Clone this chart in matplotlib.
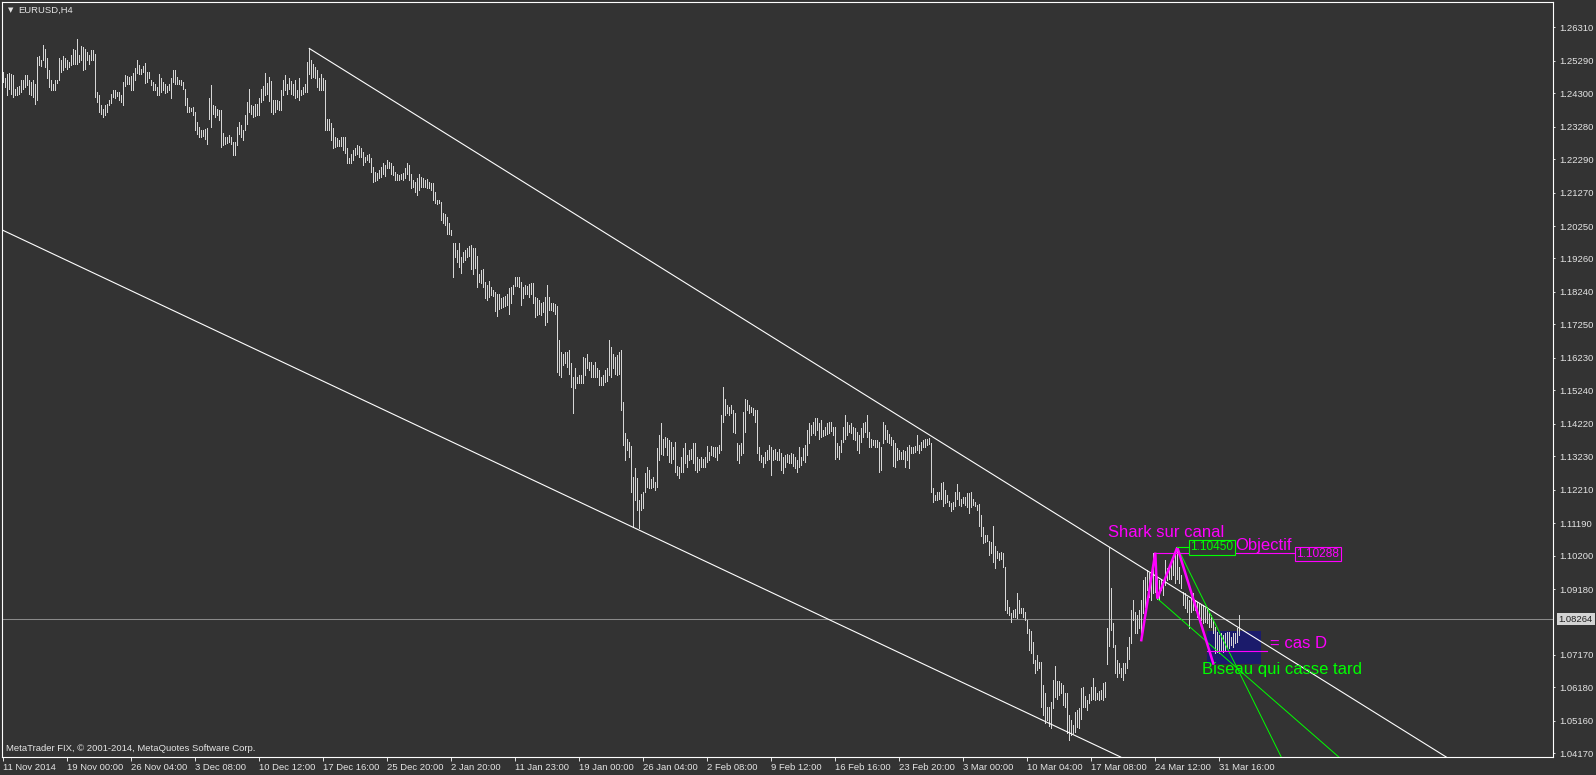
#!/usr/bin/env python3
# -*- coding: utf-8 -*-
"""
EURUSD H4 - canal baissier + shark + biseau (style MetaTrader)
"""

import numpy as np
import matplotlib
matplotlib.use("Agg")
import matplotlib.pyplot as plt
from matplotlib.patches import Rectangle
import matplotlib.transforms as mtransforms

plt.rcParams['font.family'] = ['Liberation Sans', 'DejaVu Sans']

BG = '#333333'
FG = '#e4e4e4'
BAR_COLOR = '#d6d6d6'
MAGENTA = '#ff00ff'
LIME = '#00ff00'

# plus hauts / plus bas de chaque bougie H4, en 1e-4 (pips)
high_pips = [
    12495, 12475, 12490, 12492, 12490, 12485, 12444, 12449, 12451, 12471,  # 0
    12471, 12487, 12487, 12471, 12464, 12469, 12459, 12541, 12543, 12530,
    12576, 12566, 12536, 12502, 12469, 12459, 12471, 12471, 12536, 12530,
    12543, 12536, 12530, 12525, 12546, 12566, 12561, 12594, 12546, 12573,
    12571, 12566, 12556, 12546, 12561, 12563, 12551, 12434, 12424, 12393,
    12383, 12393, 12398, 12408, 12427, 12441, 12441, 12434, 12434, 12424,  # 50
    12464, 12485, 12482, 12480, 12482, 12492, 12508, 12530, 12515, 12505,
    12512, 12522, 12495, 12495, 12469, 12464, 12459, 12449, 12488, 12475,
    12464, 12459, 12451, 12459, 12475, 12502, 12502, 12480, 12471, 12469,
    12464, 12444, 12414, 12388, 12386, 12388, 12373, 12342, 12327, 12317,
    12317, 12322, 12325, 12414, 12454, 12393, 12390, 12383, 12378, 12378,  # 100
    12309, 12297, 12295, 12302, 12297, 12281, 12281, 12327, 12342, 12332,
    12319, 12363, 12403, 12444, 12393, 12390, 12398, 12396, 12414, 12444,
    12451, 12492, 12461, 12480, 12467, 12408, 12408, 12408, 12406, 12439,
    12471, 12485, 12459, 12475, 12467, 12459, 12469, 12439, 12475, 12441,
    12449, 12459, 12525, 12566, 12530, 12520, 12510, 12500, 12475, 12490,  # 150
    12475, 12471, 12352, 12352, 12338, 12323, 12297, 12292, 12287, 12295,
    12297, 12297, 12262, 12231, 12246, 12256, 12262, 12272, 12269, 12262,
    12251, 12236, 12241, 12246, 12231, 12206, 12190, 12187, 12195, 12206,
    12218, 12211, 12226, 12221, 12216, 12208, 12190, 12185, 12180, 12183,
    12187, 12201, 12218, 12211, 12185, 12165, 12160, 12170, 12185, 12175,  # 200
    12170, 12165, 12167, 12160, 12157, 12155, 12129, 12104, 12104, 12099,
    12065, 12063, 12053, 12033, 12012, 11972, 11974, 11951, 11972, 11931,
    11946, 11951, 11957, 11964, 11967, 11957, 11957, 11933, 11880, 11890,
    11893, 11855, 11845, 11858, 11840, 11829, 11824, 11817, 11817, 11804,
    11809, 11811, 11817, 11835, 11840, 11845, 11868, 11868, 11868, 11855,  # 250
    11840, 11845, 11842, 11848, 11852, 11852, 11809, 11804, 11799, 11789,
    11794, 11809, 11845, 11809, 11791, 11789, 11787, 11781, 11677, 11641,
    11636, 11641, 11641, 11646, 11606, 11565, 11591, 11565, 11570, 11570,
    11626, 11621, 11636, 11611, 11611, 11601, 11611, 11591, 11585, 11565,
    11570, 11585, 11591, 11677, 11657, 11636, 11626, 11631, 11641, 11647,  # 300
    11488, 11394, 11375, 11366, 11354, 11259, 11287, 11256, 11189, 11209,
    11215, 11271, 11291, 11281, 11255, 11260, 11245, 11347, 11388, 11423,
    11377, 11382, 11380, 11372, 11367, 11350, 11367, 11293, 11291, 11321,
    11347, 11364, 11327, 11342, 11344, 11362, 11362, 11321, 11316, 11321,
    11316, 11321, 11354, 11337, 11354, 11350, 11352, 11350, 11357, 11449,  # 350
    11535, 11496, 11479, 11474, 11479, 11464, 11454, 11362, 11357, 11362,
    11459, 11496, 11494, 11479, 11474, 11469, 11464, 11464, 11350, 11327,
    11321, 11337, 11342, 11357, 11350, 11342, 11344, 11337, 11344, 11332,
    11321, 11327, 11330, 11327, 11332, 11330, 11321, 11311, 11350, 11321,
    11347, 11357, 11403, 11423, 11418, 11428, 11441, 11441, 11425, 11433,  # 400
    11403, 11413, 11423, 11428, 11428, 11413, 11413, 11362, 11354, 11372,
    11413, 11449, 11428, 11418, 11423, 11413, 11408, 11398, 11388, 11408,
    11423, 11428, 11449, 11398, 11374, 11372, 11372, 11372, 11367, 11352,
    11428, 11418, 11403, 11391, 11382, 11372, 11362, 11347, 11342, 11337,
    11342, 11340, 11352, 11357, 11350, 11350, 11354, 11388, 11357, 11367,  # 450
    11372, 11374, 11377, 11380, 11362, 11225, 11205, 11215, 11215, 11240,
    11245, 11220, 11205, 11187, 11181, 11184, 11215, 11238, 11215, 11194,
    11199, 11199, 11212, 11212, 11215, 11194, 11184, 11174, 11177, 11144,
    11108, 11083, 11083, 11065, 11062, 11110, 11049, 11035, 11029, 11032,
    11027, 10986, 10886, 10864, 10844, 10854, 10856, 10907, 10884, 10859,  # 500
    10859, 10849, 10825, 10795, 10791, 10757, 10703, 10717, 10696, 10696,
    10625, 10602, 10557, 10559, 10574, 10640, 10683, 10638, 10638, 10630,
    10625, 10602, 10600, 10534, 10520, 10503, 10544, 10549, 10554, 10615,
    10620, 10591, 10579, 10598, 10620, 10648, 10620, 10600, 10608, 10610,
    10630, 10635, 10800, 11045, 10920, 10813, 10747, 10701, 10691, 10676,  # 550
    10691, 10691, 10742, 10772, 10854, 10884, 10849, 10839, 10854, 10884,
    10945, 10955, 10976, 10966, 10966, 11027, 11027, 10955, 10945, 10950,
    10945, 11006, 10981, 10986, 11001, 11006, 11032, 11047, 10986, 10961,
    10910, 10905, 10894, 10884, 10889, 10905, 10884, 10879, 10874, 10869,
    10869, 10859, 10864, 10844, 10839, 10823, 10803, 10788, 10778, 10783,  # 600
    10778, 10783, 10788, 10788, 10772, 10783, 10783, 10798, 10839,
]

low_pips = [
    12464, 12449, 12424, 12444, 12429, 12419, 12424, 12424, 12429, 12434,  # 0
    12444, 12449, 12454, 12429, 12424, 12419, 12396, 12408, 12515, 12512,
    12530, 12510, 12475, 12449, 12439, 12439, 12439, 12461, 12469, 12495,
    12500, 12510, 12505, 12510, 12515, 12520, 12520, 12520, 12525, 12530,
    12502, 12505, 12530, 12520, 12530, 12530, 12419, 12403, 12373, 12368,
    12358, 12363, 12373, 12393, 12400, 12419, 12414, 12421, 12408, 12403,  # 50
    12393, 12451, 12459, 12459, 12439, 12439, 12471, 12492, 12490, 12490,
    12495, 12461, 12464, 12475, 12454, 12441, 12439, 12424, 12424, 12434,
    12439, 12431, 12434, 12439, 12414, 12464, 12459, 12459, 12459, 12454,
    12444, 12393, 12373, 12373, 12376, 12363, 12317, 12307, 12297, 12297,
    12299, 12291, 12276, 12352, 12327, 12368, 12356, 12363, 12347, 12266,  # 100
    12271, 12276, 12278, 12281, 12276, 12241, 12241, 12271, 12307, 12297,
    12286, 12317, 12337, 12373, 12368, 12358, 12360, 12363, 12363, 12403,
    12408, 12424, 12429, 12406, 12373, 12368, 12373, 12383, 12378, 12378,
    12424, 12441, 12429, 12444, 12429, 12424, 12414, 12419, 12408, 12424,
    12427, 12434, 12434, 12490, 12475, 12480, 12475, 12449, 12441, 12439,  # 150
    12439, 12317, 12317, 12317, 12287, 12262, 12267, 12269, 12269, 12269,
    12256, 12248, 12216, 12216, 12216, 12226, 12241, 12246, 12236, 12236,
    12211, 12221, 12226, 12221, 12190, 12160, 12163, 12165, 12170, 12175,
    12185, 12177, 12201, 12201, 12185, 12180, 12165, 12165, 12165, 12167,
    12165, 12170, 12185, 12165, 12140, 12145, 12129, 12119, 12134, 12145,  # 200
    12145, 12145, 12140, 12140, 12134, 12104, 12094, 12092, 12094, 12043,
    12033, 12028, 12002, 12002, 11997, 11870, 11931, 11916, 11901, 11882,
    11916, 11921, 11931, 11933, 11893, 11880, 11896, 11840, 11855, 11850,
    11838, 11804, 11799, 11809, 11814, 11811, 11766, 11750, 11771, 11774,
    11779, 11781, 11784, 11758, 11789, 11819, 11842, 11842, 11840, 11784,  # 250
    11804, 11817, 11817, 11809, 11819, 11789, 11748, 11753, 11758, 11753,
    11763, 11723, 11733, 11768, 11768, 11766, 11758, 11580, 11570, 11565,
    11601, 11606, 11596, 11575, 11535, 11455, 11530, 11545, 11547, 11545,
    11547, 11570, 11591, 11585, 11565, 11565, 11565, 11565, 11540, 11540,
    11540, 11550, 11553, 11570, 11565, 11591, 11573, 11570, 11573, 11464,  # 300
    11357, 11311, 11342, 11320, 11214, 11107, 11189, 11159, 11104, 11158,
    11164, 11215, 11230, 11225, 11225, 11230, 11220, 11230, 11311, 11331,
    11326, 11352, 11326, 11306, 11301, 11316, 11276, 11266, 11258, 11276,
    11276, 11301, 11291, 11311, 11316, 11301, 11281, 11276, 11281, 11291,
    11291, 11291, 11306, 11311, 11326, 11323, 11321, 11311, 11332, 11342,  # 350
    11428, 11449, 11454, 11449, 11454, 11398, 11393, 11311, 11301, 11326,
    11332, 11398, 11464, 11454, 11459, 11449, 11428, 11332, 11311, 11306,
    11291, 11301, 11311, 11316, 11266, 11311, 11316, 11311, 11311, 11281,
    11271, 11291, 11306, 11301, 11301, 11293, 11286, 11276, 11291, 11296,
    11311, 11306, 11327, 11362, 11388, 11393, 11388, 11403, 11377, 11382,  # 400
    11384, 11388, 11391, 11393, 11401, 11388, 11316, 11321, 11316, 11337,
    11367, 11377, 11388, 11398, 11393, 11377, 11372, 11342, 11332, 11367,
    11382, 11398, 11382, 11352, 11350, 11357, 11352, 11352, 11276, 11281,
    11362, 11377, 11367, 11364, 11357, 11293, 11289, 11311, 11316, 11316,
    11316, 11289, 11311, 11286, 11332, 11332, 11337, 11342, 11332, 11342,  # 450
    11350, 11352, 11357, 11360, 11215, 11184, 11189, 11189, 11194, 11194,
    11171, 11179, 11184, 11171, 11157, 11161, 11171, 11194, 11174, 11171,
    11179, 11174, 11167, 11151, 11169, 11174, 11171, 11159, 11110, 11079,
    11059, 11062, 11065, 11022, 11027, 11001, 10981, 11014, 11008, 11011,
    10986, 10854, 10844, 10839, 10818, 10834, 10834, 10831, 10844, 10844,  # 500
    10834, 10823, 10783, 10732, 10722, 10691, 10663, 10671, 10676, 10559,
    10534, 10508, 10518, 10500, 10493, 10554, 10589, 10584, 10594, 10600,
    10564, 10559, 10478, 10459, 10472, 10478, 10483, 10498, 10493, 10523,
    10557, 10557, 10549, 10569, 10579, 10584, 10579, 10584, 10579, 10584,
    10579, 10589, 10690, 10745, 10793, 10742, 10661, 10650, 10661, 10650,  # 550
    10640, 10661, 10676, 10706, 10752, 10823, 10783, 10783, 10798, 10762,
    10844, 10864, 10915, 10894, 10884, 10905, 10910, 10889, 10884, 10915,
    10900, 10930, 10945, 10950, 10950, 10961, 10935, 10950, 10935, 10920,
    10869, 10859, 10849, 10798, 10849, 10854, 10854, 10833, 10823, 10823,
    10813, 10818, 10813, 10803, 10803, 10783, 10722, 10727, 10722, 10732,  # 600
    10727, 10732, 10737, 10737, 10747, 10742, 10752, 10757, 10777,
]

price_ticks = [1.26310, 1.25290, 1.24300, 1.23280, 1.22290, 1.21270, 1.20250,
               1.19260, 1.18240, 1.17250, 1.16230, 1.15240, 1.14220, 1.13230,
               1.12210, 1.11190, 1.10200, 1.09180, 1.07170, 1.06180, 1.05160,
               1.04170]

date_labels = ['11 Nov 2014', '19 Nov 00:00', '26 Nov 04:00', '3 Dec 08:00',
               '10 Dec 12:00', '17 Dec 16:00', '25 Dec 20:00', '2 Jan 20:00',
               '11 Jan 23:00', '19 Jan 00:00', '26 Jan 04:00', '2 Feb 08:00',
               '9 Feb 12:00', '16 Feb 16:00', '23 Feb 20:00', '3 Mar 00:00',
               '10 Mar 04:00', '17 Mar 08:00', '24 Mar 12:00', '31 Mar 16:00']
date_bars = [0, 32, 64, 96, 128, 160, 192, 224, 256, 288, 320, 352, 384, 416,
             448, 480, 512, 544, 576, 608]

current_price = 1.08264

# lignes de tendance : (bougie, prix)
upper_channel = [(153, 1.25664), (553, 1.10460)]
lower_channel = [(148, 1.15860), (553, 1.04220)]

# figure shark X-A-B-C-D
shark_bars = [569, 576, 577, 587, 605]
shark_prices = [1.07620, 1.10288, 1.08890, 1.10450, 1.06910]

# biseau (deux droites vertes)
wedge_top = [(587, 1.10450), (617, 1.06760)]
wedge_bottom = [(577, 1.08890), (617, 1.06760)]

# zone "cas D"
zone_bars = (602, 629)
zone_prices = (1.06890, 1.07910)
cas_d_price = 1.07290


def ray(ax, p1, p2, x_end, **kw):
    """trace une demi-droite depuis p1 en passant par p2"""
    slope = (p2[1] - p1[1]) / (p2[0] - p1[0])
    ax.plot([p1[0], x_end], [p1[1], p1[1] + slope * (x_end - p1[0])], **kw)


def main():
    highs = np.array(high_pips) / 10000.0
    lows = np.array(low_pips) / 10000.0
    x = np.arange(len(highs))

    fig = plt.figure(figsize=(15.96, 7.75), dpi=100, facecolor=BG)
    ax = fig.add_axes([2 / 1596, 18 / 775, 1551 / 1596, 755 / 775])
    ax.set_facecolor(BG)
    ax.set_xlim(-0.65, 774.85)
    ax.set_ylim(1.040572, 1.270815)

    # zone bleue (en arriere-plan)
    ax.add_patch(Rectangle((zone_bars[0], zone_prices[0]),
                           zone_bars[1] - zone_bars[0],
                           zone_prices[1] - zone_prices[0],
                           facecolor='#1b1b6b', edgecolor='none', zorder=1))

    # ligne du prix actuel
    ax.axhline(current_price, color='#8a8a8a', lw=0.75, zorder=2)

    # barres (1 px chacune)
    ax.vlines(x, lows, highs, colors=BAR_COLOR, lw=0.5,
              antialiased=False, zorder=3)

    # canal
    ray(ax, upper_channel[0], upper_channel[1], 800, color='white', lw=0.8, zorder=4)
    ax.axline(lower_channel[0], lower_channel[1], color='white', lw=0.8, zorder=4)

    # biseau
    ray(ax, wedge_top[0], wedge_top[1], 800, color=LIME, lw=0.7, zorder=4)
    ray(ax, wedge_bottom[0], wedge_bottom[1], 800, color=LIME, lw=0.7, zorder=4)

    # shark
    ax.plot(shark_bars, shark_prices, color=MAGENTA, lw=1.8, zorder=5,
            solid_joinstyle='miter')
    ax.plot([shark_bars[1], 645.5], [shark_prices[1], shark_prices[1]],
            color=MAGENTA, lw=0.8, zorder=5)
    ax.plot([shark_bars[3], 592.5], [shark_prices[3], shark_prices[3]],
            color=LIME, lw=0.8, zorder=5)
    ax.plot([zone_bars[0], 632], [cas_d_price, cas_d_price],
            color=MAGENTA, lw=0.8, zorder=5)

    # etiquettes de prix
    ax.text(593.5, shark_prices[3], f'{shark_prices[3]:.5f}', color=LIME,
            fontsize=8.6, ha='left', va='center', zorder=6,
            bbox=dict(boxstyle='square,pad=0.12', fc=BG, ec=LIME, lw=0.8))
    ax.text(646.5, shark_prices[1] - 0.0004, f'{shark_prices[1]:.5f}', color=MAGENTA,
            fontsize=8.6, ha='left', va='center', zorder=6,
            bbox=dict(boxstyle='square,pad=0.12', fc=BG, ec=MAGENTA, lw=0.8))

    # textes
    ax.text(552.5, 1.1089, 'Shark sur canal', color=MAGENTA, fontsize=12,
            ha='left', va='center', zorder=6)
    ax.text(616.2, 1.1052, 'Objectif', color=MAGENTA, fontsize=12,
            ha='left', va='center', zorder=6)
    ax.text(633.4, 1.0753, '= cas D', color=MAGENTA, fontsize=12,
            ha='left', va='center', zorder=6)
    ax.text(599.4, 1.0672, 'Biseau qui casse tard', color=LIME, fontsize=12,
            ha='left', va='center', zorder=6)

    # axes facon MetaTrader
    for side in ['left', 'right', 'top', 'bottom']:
        ax.spines[side].set_color('white')
        ax.spines[side].set_linewidth(0.8)

    ax.yaxis.tick_right()
    ax.set_yticks(price_ticks)
    ax.set_yticklabels([f'{p:.5f}' for p in price_ticks])
    ax.tick_params(axis='y', colors=FG, labelsize=6.8, length=1.6, width=0.7,
                   pad=3, direction='out')

    ax.set_xticks(date_bars)
    ax.set_xticklabels(date_labels)
    for lbl in ax.get_xticklabels():
        lbl.set_ha('left')
    ax.tick_params(axis='x', colors=FG, labelsize=6.8, length=3, width=0.7,
                   pad=1, direction='out')

    # etiquette du prix courant
    trans = mtransforms.blended_transform_factory(ax.transAxes, ax.transData)
    ax.text(1.0037, current_price, f'{current_price:.5f}', transform=trans,
            color='#202020', fontsize=6.8, ha='left', va='center', clip_on=False,
            zorder=10, bbox=dict(boxstyle='square,pad=0.2', fc='#d4d4d4', ec='none'))

    ax.text(0.0040, 0.9895, '\u25bc', transform=ax.transAxes, color=FG,
            fontsize=5, ha='left', va='center', family='DejaVu Sans')
    ax.text(0.0105, 0.9895, 'EURUSD,H4', transform=ax.transAxes, color=FG,
            fontsize=6.8, ha='left', va='center')
    ax.text(0.0026, 0.0106, 'MetaTrader FIX, \u00a9 2001-2014, MetaQuotes Software Corp.',
            transform=ax.transAxes, color=FG, fontsize=6.8, ha='left', va='center')

    fig.savefig('out.png', dpi=100, facecolor=BG)
    plt.close(fig)


if __name__ == '__main__':
    main()
